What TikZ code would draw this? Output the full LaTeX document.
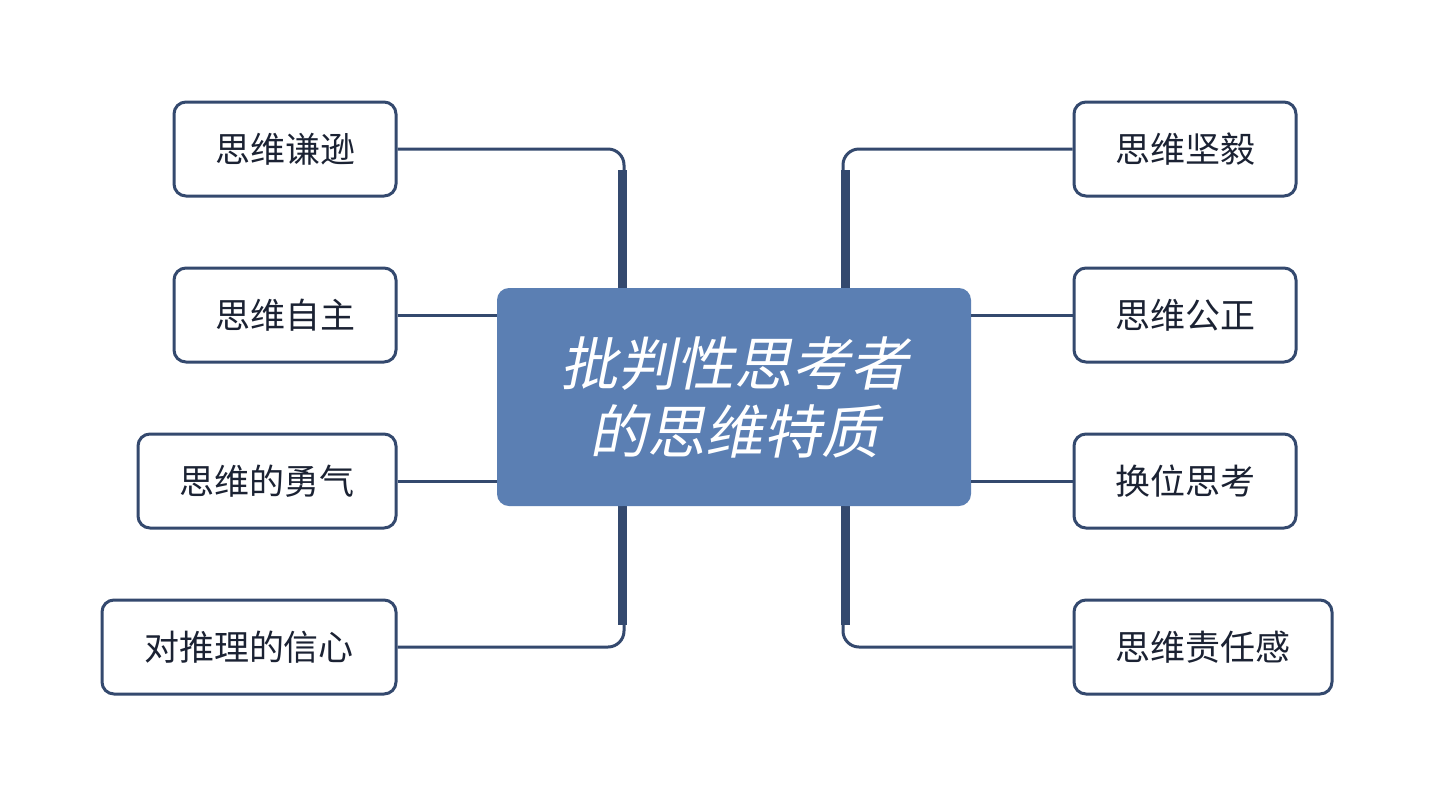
\documentclass[tikz,border=0pt]{standalone}
\usepackage{fontspec}
\newfontfamily\cjk{Noto Sans CJK SC}
\newfontfamily\cjkit[FakeSlant=0.2]{Noto Sans CJK SC}
\definecolor{navy}{HTML}{34496E}
\definecolor{cfill}{HTML}{5B7FB3}
\definecolor{txt}{HTML}{1B2233}
\begin{document}
\begin{tikzpicture}[x=0.5pt,y=-0.5pt,
  leaf/.style={draw=navy,line width=1.5pt,rounded corners=6pt,fill=white,minimum height=47pt,inner sep=0pt,font=\cjk\fontsize{17.5}{20}\selectfont,text=txt},
  link/.style={draw=navy,line width=1.5pt},
  spine/.style={draw=navy,line width=4.5pt}]
\useasboundingbox (0,0) rectangle (1432,794);
\fill[white] (0,0) rectangle (1432,794);
% spines
\draw[spine] (622,170) -- (622,290);
\draw[spine] (622,504) -- (622,625);
\draw[spine] (845,170) -- (845,290);
\draw[spine] (845,504) -- (845,625);
\node[draw=none,fill=cfill,rounded corners=6pt,minimum width=237pt,minimum height=109pt,inner sep=0pt,align=center,text=white,font=\cjkit\fontsize{29}{34}\selectfont] (c) at (734,397) {批判性思考者\\的思维特质};
\node[leaf,minimum width=111pt] (l1) at (285,149) {思维谦逊};
\node[leaf,minimum width=111pt] (l2) at (285,315) {思维自主};
\node[leaf,minimum width=129pt] (l3) at (267,481) {思维的勇气};
\node[leaf,minimum width=147pt] (l4) at (249,647) {对推理的信心};
\node[leaf,minimum width=111pt] (r1) at (1185,149) {思维坚毅};
\node[leaf,minimum width=111pt] (r2) at (1185,315) {思维公正};
\node[leaf,minimum width=111pt] (r3) at (1185,481) {换位思考};
\node[leaf,minimum width=129pt] (r4) at (1203,647) {思维责任感};
\draw[link,rounded corners=8pt] (l1.east) -| (c.north -| 624,0);
\draw[link,rounded corners=8pt] (l4.east) -| (c.south -| 624,0);
\draw[link,rounded corners=8pt] (r1.west) -| (c.north -| 843,0);
\draw[link,rounded corners=8pt] (r4.west) -| (c.south -| 843,0);
\draw[link] (l2.east) -- (l2.east -| c.west);
\draw[link] (l3.east) -- (l3.east -| c.west);
\draw[link] (r2.west) -- (r2.west -| c.east);
\draw[link] (r3.west) -- (r3.west -| c.east);
\end{tikzpicture}
\end{document}
